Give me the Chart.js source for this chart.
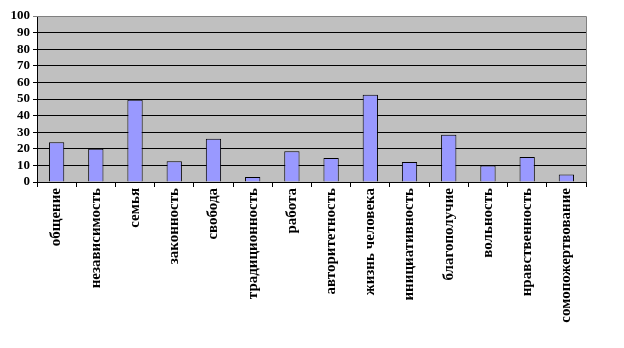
<!DOCTYPE html>
<html>
<head>
<meta charset="utf-8">
<script src="https://cdn.jsdelivr.net/npm/chart.js@4/dist/chart.umd.min.js"></script>
<style>
  body { margin: 0; background: #fff; }
  canvas { display: block; }
</style>
</head>
<body>
<canvas id="chart" width="624" height="348"></canvas>
<script>
// categories
var categories = ["общение", "независимость", "семья", "законность", "свобода",
  "традиционность", "работа", "авторитетность", "жизнь человека", "инициативность",
  "благополучие", "вольность", "нравственность", "сомопожертвование"];
// values
var values = [24, 20, 49.5, 12.5, 26, 3, 18.5, 14.5, 52.5, 12, 28.5, 10, 15, 4.5];
var yTicks = [0, 10, 20, 30, 40, 50, 60, 70, 80, 90, 100];

// grey plot background + grey frame on top / right
var plotBack = {
  id: "plotBack",
  beforeDraw: function(chart) {
    var a = chart.chartArea, ctx = chart.ctx;
    ctx.save();
    ctx.fillStyle = "#C0C0C0";
    ctx.fillRect(a.left, a.top, a.right - a.left, a.bottom - a.top);
    ctx.restore();
  },
  afterDatasetsDraw: function(chart) {
    var a = chart.chartArea, ctx = chart.ctx;
    ctx.save();
    ctx.strokeStyle = "#808080";
    ctx.lineWidth = 1;
    ctx.beginPath();
    ctx.moveTo(a.left, Math.round(a.top) + 0.5);
    ctx.lineTo(Math.round(a.right) + 0.5, Math.round(a.top) + 0.5);
    ctx.lineTo(Math.round(a.right) + 0.5, a.bottom);
    ctx.stroke();
    ctx.restore();
  }
};

var ctx = document.getElementById("chart").getContext("2d");
var chart = new Chart(ctx, {
  type: "bar",
  data: {
    labels: categories,
    datasets: [{
      data: values,
      backgroundColor: "#9999FF",
      borderColor: "#000000",
      borderWidth: 1,
      barPercentage: 0.39,
      categoryPercentage: 1
    }]
  },
  options: {
    responsive: false,
    animation: false,
    layout: { padding: { top: 16, right: 38, left: 0, bottom: 0 } },
    plugins: { legend: { display: false }, tooltip: { enabled: false } },
    scales: {
      x: {
        afterFit: function(s) { s.height = 166; },
        grid: { offset: true, drawOnChartArea: false, color: "#000", tickLength: 5 },
        border: { display: true, color: "#000" },
        ticks: {
          autoSkip: false, maxRotation: 90, minRotation: 90, padding: 1,
          color: "#000",
          font: { family: "'Liberation Serif', 'Times New Roman', serif", size: 15, weight: "bold" }
        }
      },
      y: {
        min: 0, max: 100,
        afterFit: function(s) { s.width = 37; },
        afterBuildTicks: function(s) { s.ticks = yTicks.map(function(v) { return { value: v }; }); },
        grid: {
          color: function(c) { return c.tick && c.tick.value === 100 ? "#808080" : "#000"; },
          tickLength: 4
        },
        border: { display: true, color: "#000" },
        ticks: {
          autoSkip: false,
          padding: 3,
          color: "#000",
          font: { family: "'Liberation Serif', 'Times New Roman', serif", size: 13, weight: "bold" }
        }
      }
    }
  },
  plugins: [plotBack]
});
</script>
</body>
</html>
